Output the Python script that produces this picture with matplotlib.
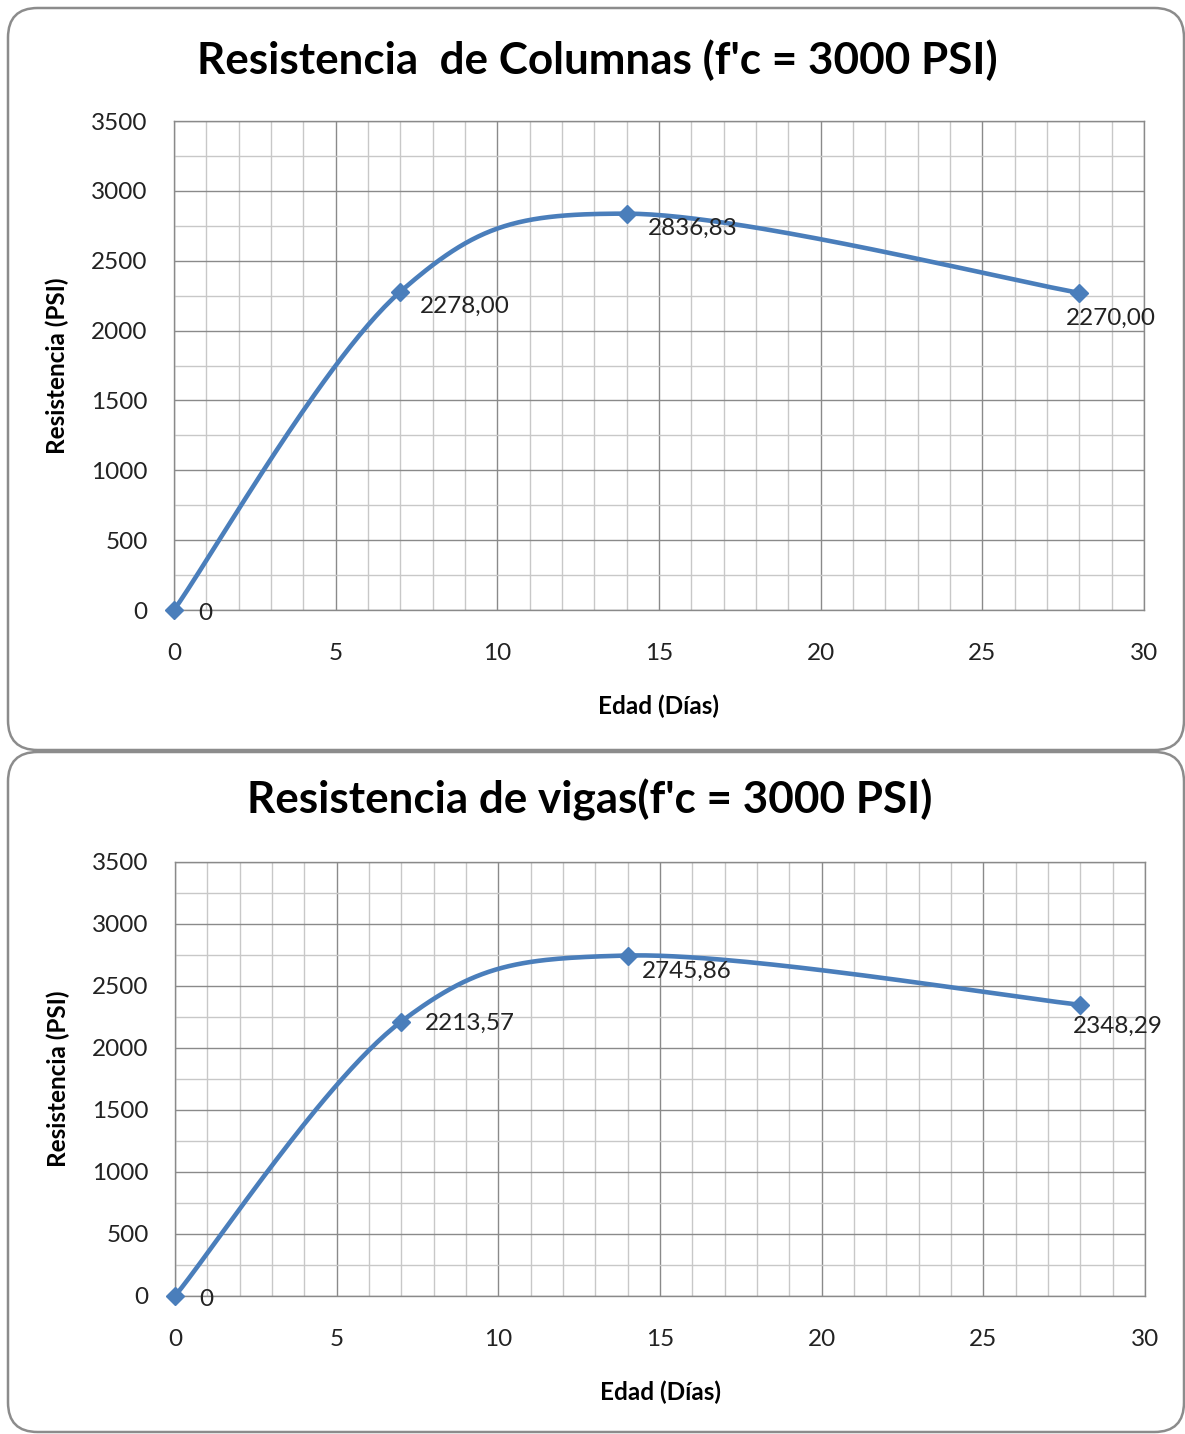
import numpy as np
import matplotlib.pyplot as plt
from matplotlib.patches import FancyBboxPatch
from matplotlib.ticker import MultipleLocator

plt.rcParams['font.family'] = ['Lato', 'DejaVu Sans']

# ensayos de compresion
dias = [0, 7, 14, 28]
col_psi = [0, 2278.00, 2836.83, 2270.00]
vig_psi = [0, 2213.57, 2745.86, 2348.29]
col_labels = ['0', '2278,00', '2836,83', '2270,00']
vig_labels = ['0', '2213,57', '2745,86', '2348,29']

titulo_col = "Resistencia  de Columnas (f'c = 3000 PSI)"
titulo_vig = "Resistencia de vigas(f'c = 3000 PSI)"

W, H = 1185, 1434
AZUL = '#4a7ebb'


def curva_suave(x, y, n=60):
    # bezier tipo excel (catmull-rom con tension 1/6)
    x = np.asarray(x, float)
    y = np.asarray(y, float)
    px = np.concatenate([[x[0]], x, [x[-1]]])
    py = np.concatenate([[y[0]], y, [y[-1]]])
    xs, ys = [], []
    t = np.linspace(0, 1, n)
    for i in range(1, len(px) - 2):
        p0 = np.array([px[i], py[i]])
        p3 = np.array([px[i + 1], py[i + 1]])
        p1 = p0 + (np.array([px[i + 1], py[i + 1]]) - np.array([px[i - 1], py[i - 1]])) / 6
        p2 = p3 - (np.array([px[i + 2], py[i + 2]]) - np.array([px[i], py[i]])) / 6
        b = ((1 - t) ** 3)[:, None] * p0 + (3 * (1 - t) ** 2 * t)[:, None] * p1 \
            + (3 * (1 - t) * t ** 2)[:, None] * p2 + (t ** 3)[:, None] * p3
        xs.append(b[:, 0])
        ys.append(b[:, 1])
    return np.concatenate(xs), np.concatenate(ys)


def caja(fig, x0, y0, x1, y1):
    # recuadro redondeado en pixeles
    p = FancyBboxPatch((x0 / W, 1 - y1 / H), (x1 - x0) / W, (y1 - y0) / H,
                       boxstyle='round,pad=0,rounding_size=0.025',
                       transform=fig.transFigure, fc='white', ec='#8c8c8c',
                       lw=1.8, zorder=-5, mutation_aspect=W / H)
    fig.patches.append(p)


def panel(fig, rect, y, etiquetas, offsets, titulo, tx, ty):
    l, t, r, b = rect
    ax = fig.add_axes([l / W, 1 - b / H, (r - l) / W, (b - t) / H])
    ax.set_xlim(0, 30)
    ax.set_ylim(0, 3500)
    ax.xaxis.set_major_locator(MultipleLocator(5))
    ax.xaxis.set_minor_locator(MultipleLocator(1))
    ax.yaxis.set_major_locator(MultipleLocator(500))
    ax.yaxis.set_minor_locator(MultipleLocator(250))
    ax.grid(which='major', color='#8a8a8a', lw=1.0)
    ax.grid(which='minor', color='#c8c8c8', lw=1.0)
    ax.set_axisbelow(True)
    ax.tick_params(which='both', length=0)
    ax.tick_params(axis='y', pad=19, labelsize=17.5, labelcolor='#222222')
    ax.tick_params(axis='x', pad=24, labelsize=17.5, labelcolor='#222222')
    for s in ax.spines.values():
        s.set_color('#8a8a8a')
        s.set_linewidth(1.0)

    xs, ys = curva_suave(dias, y)
    ax.plot(xs, ys, color=AZUL, lw=3.3, clip_on=False, zorder=3)
    ax.plot(dias, y, ls='none', marker='D', ms=9.5, color=AZUL, clip_on=False, zorder=4)
    for xi, yi, txt, (dx, dy) in zip(dias, y, etiquetas, offsets):
        ax.annotate(txt, (xi, yi), xytext=(dx, dy), textcoords='offset pixels',
                    ha='left', va='center', fontsize=17.5, color='#222222', zorder=5)

    ax.set_xlabel('Edad (Días)', fontsize=17.5, fontweight='bold', labelpad=22)
    ax.set_ylabel('Resistencia (PSI)', fontsize=17.5, fontweight='bold', labelpad=16)
    fig.text(tx / W, 1 - ty / H, titulo, ha='center', va='center',
             fontsize=31.7, fontweight='bold', color='black')
    return ax


fig = plt.figure(figsize=(W / 100, H / 100), dpi=100)
fig.patch.set_facecolor('white')

caja(fig, 8, 8, 1184, 750)
caja(fig, 8, 752, 1184, 1432)

panel(fig, (174, 121, 1144, 610), col_psi, col_labels,
      [(24, -3), (20, -15), (21, -15), (-13, -25)], titulo_col, 597, 60)
panel(fig, (175, 862, 1145, 1296), vig_psi, vig_labels,
      [(24, -3), (24, -2), (14, -16), (-7, -22)], titulo_vig, 590, 800)

fig.savefig('out.png', dpi=100, facecolor='white')
